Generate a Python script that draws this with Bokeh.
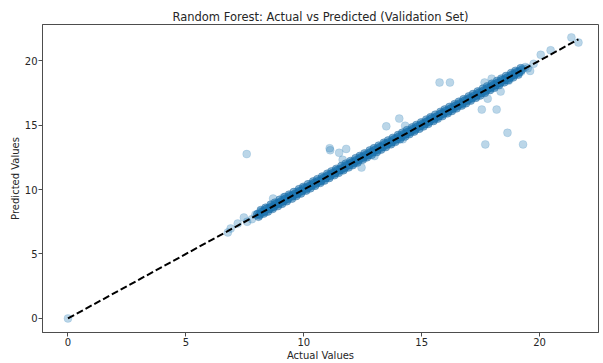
from bokeh.plotting import figure
from bokeh.models import Range1d, FixedTicker, ColumnDataSource
from bokeh.embed import file_html
from bokeh.resources import INLINE

# Validation-set targets (actual) and random-forest outputs (predicted)
actual = [
    0.0, 6.78, 6.9, 7.2, 7.46, 7.6, 7.8, 7.95,
    8.05, 8.12, 8.2, 8.28, 8.35, 8.41, 8.5, 8.58, 8.63, 8.72, 8.8, 8.86, 8.95, 9.02,
    9.1, 9.18, 9.25, 9.31, 9.4, 9.48, 9.55, 9.62, 9.7, 9.78, 9.85, 9.93, 10.0, 10.08,
    10.15, 10.22, 10.3, 10.38, 10.45, 10.52, 10.6, 10.68, 10.75, 10.83, 10.9, 10.97,
    11.05, 11.12, 11.2, 11.28, 11.35, 11.42, 11.5, 11.58, 11.65, 11.72, 11.8, 11.88,
    11.95, 12.03, 12.1, 12.18, 12.25, 12.32, 12.4, 12.48, 12.55, 12.62, 12.7, 12.78,
    12.85, 12.92, 13.0, 13.08, 13.15, 13.22, 13.3, 13.38, 13.45, 13.52, 13.6, 13.68,
    13.75, 13.82, 13.9, 13.98, 14.05, 14.12, 14.2, 14.28, 14.35, 14.42, 14.5, 14.58,
    14.65, 14.72, 14.8, 14.88, 14.95, 15.02, 15.1, 15.18, 15.25, 15.32, 15.4, 15.48,
    15.55, 15.62, 15.7, 15.78, 15.85, 15.92, 16.0, 16.08, 16.15, 16.22, 16.3, 16.38,
    16.45, 16.52, 16.6, 16.68, 16.75, 16.82, 16.9, 16.98, 17.05, 17.12, 17.2, 17.28,
    17.35, 17.42, 17.5, 17.58, 17.65, 17.72, 17.8, 17.88, 17.95, 18.02, 18.1, 18.18,
    18.25, 18.32, 18.4, 18.48, 18.55, 18.62, 18.7, 18.78, 18.85, 18.92, 19.0, 19.08,
    19.15, 19.22, 19.3,
    # scattered cases off the diagonal
    7.58, 8.7, 9.15, 11.1, 11.12, 11.5, 11.8, 11.65, 12.45, 13.0, 13.5, 14.05, 14.3,
    14.2, 15.76, 16.2, 17.67, 17.97, 18.35, 17.8, 17.55, 18.18, 18.64, 17.7, 19.3,
    18.7, 19.4, 19.5, 19.6, 19.75, 20.05, 20.47, 21.35, 21.65,
]
predicted = [
    0.0, 6.67, 6.98, 7.36, 7.83, 7.5, 7.7, 8.05,
    8.1, 8.0, 8.31, 8.22, 8.44, 8.3, 8.57, 8.5, 8.75, 8.66, 8.9, 8.79, 9.02, 8.93,
    9.2, 9.12, 9.3, 9.22, 9.51, 9.4, 9.6, 9.55, 9.82, 9.7, 9.9, 9.85, 10.12, 10.0,
    10.2, 10.16, 10.41, 10.3, 10.52, 10.44, 10.7, 10.6, 10.83, 10.74, 11.0, 10.9,
    11.14, 11.03, 11.28, 11.2, 11.46, 11.35, 11.58, 11.5, 11.73, 11.62, 11.9, 11.8,
    12.05, 11.95, 12.2, 12.1, 12.32, 12.22, 12.5, 12.4, 12.63, 12.55, 12.8, 12.7,
    12.92, 12.83, 13.1, 13.0, 13.24, 13.14, 13.38, 13.3, 13.55, 13.44, 13.68, 13.6,
    13.85, 13.74, 13.98, 13.9, 14.15, 14.03, 14.28, 14.2, 14.45, 14.33, 14.58, 14.5,
    14.74, 14.64, 14.9, 14.8, 15.03, 14.94, 15.2, 15.1, 15.33, 15.24, 15.5, 15.4,
    15.63, 15.54, 15.8, 15.7, 15.93, 15.84, 16.1, 16.0, 16.22, 16.14, 16.4, 16.3,
    16.53, 16.44, 16.7, 16.6, 16.82, 16.74, 17.0, 16.9, 17.13, 17.04, 17.3, 17.2,
    17.42, 17.33, 17.6, 17.5, 17.72, 17.63, 17.9, 17.8, 18.02, 17.92, 18.2, 18.1,
    18.32, 18.22, 18.5, 18.4, 18.62, 18.52, 18.8, 18.7, 18.92, 18.84, 19.1, 19.0,
    19.22, 19.14, 19.38,
    12.75, 9.3, 9.4, 13.2, 13.05, 12.85, 13.15, 12.3, 11.7, 12.6, 14.9, 15.5, 14.95,
    13.9, 18.3, 18.3, 18.3, 18.6, 17.6, 17.05, 16.2, 16.2, 14.4, 13.5, 13.5,
    18.45, 19.5, 19.4, 19.2, 19.75, 20.45, 20.8, 21.8, 21.4,
]

# Further validation rows lying close to the diagonal
actual_near = [
    8.08, 8.18, 8.3, 8.38, 8.48, 8.6, 8.68, 8.78, 8.9, 8.98,
    9.08, 9.2, 9.28, 9.38, 9.5, 9.58, 9.68, 9.8, 9.88, 9.98,
    10.1, 10.18, 10.28, 10.4, 10.48, 10.58, 10.7, 10.78, 10.88, 11.0,
    11.08, 11.18, 11.3, 11.38, 11.48, 11.6, 11.68, 11.78, 11.9, 11.98,
    12.08, 12.2, 12.28, 12.38, 12.5, 12.58, 12.68, 12.8, 12.88, 12.98,
    13.1, 13.18, 13.28, 13.4, 13.48, 13.58, 13.7, 13.78, 13.88, 14.0,
    14.08, 14.18, 14.3, 14.38, 14.48, 14.6, 14.68, 14.78, 14.9, 14.98,
    15.08, 15.2, 15.28, 15.38, 15.5, 15.58, 15.68, 15.8, 15.88, 15.98,
    16.1, 16.18, 16.28, 16.4, 16.48, 16.58, 16.7, 16.78, 16.88, 17.0,
    17.08, 17.18, 17.3, 17.38, 17.48, 17.6, 17.68, 17.78, 17.9, 17.98,
    18.08, 18.2, 18.28, 18.38, 18.5, 18.58, 18.68, 18.8, 18.88, 18.98,
    19.1, 19.2,
]
predicted_near = [
    7.9, 8.4, 8.14, 8.58, 8.3, 8.82, 8.5, 8.98, 8.72, 9.2,
    8.9, 9.42, 9.1, 9.6, 9.3, 9.8, 9.5, 10.02, 9.7, 10.2,
    9.92, 10.4, 10.1, 10.62, 10.3, 10.8, 10.52, 11.0, 10.7, 11.22,
    10.9, 11.4, 11.12, 11.6, 11.3, 11.82, 11.5, 12.0, 11.72, 12.2,
    11.9, 12.42, 12.1, 12.6, 12.32, 12.8, 12.5, 13.02, 12.7, 13.2,
    12.92, 13.4, 13.1, 13.62, 13.3, 13.8, 13.52, 14.0, 13.7, 14.22,
    13.9, 14.4, 14.12, 14.6, 14.3, 14.82, 14.5, 15.0, 14.72, 15.2,
    14.9, 15.42, 15.1, 15.6, 15.32, 15.8, 15.5, 16.02, 15.7, 16.2,
    15.92, 16.4, 16.1, 16.62, 16.3, 16.8, 16.52, 17.0, 16.7, 17.22,
    16.9, 17.4, 17.12, 17.6, 17.3, 17.82, 17.5, 18.0, 17.72, 18.2,
    17.9, 18.42, 18.1, 18.6, 18.32, 18.8, 18.5, 19.02, 18.7, 19.2,
    18.92, 19.4,
]

# Rows the model predicts almost exactly
actual_exact = [
    8.03, 8.13, 8.23, 8.33, 8.43, 8.53, 8.63, 8.73, 8.83, 8.93,
    9.03, 9.13, 9.23, 9.33, 9.43, 9.53, 9.63, 9.73, 9.83, 9.93,
    10.03, 10.13, 10.23, 10.33, 10.43, 10.53, 10.63, 10.73, 10.83, 10.93,
    11.03, 11.13, 11.23, 11.33, 11.43, 11.53, 11.63, 11.73, 11.83, 11.93,
    12.03, 12.13, 12.23, 12.33, 12.43, 12.53, 12.63, 12.73, 12.83, 12.93,
    13.03, 13.13, 13.23, 13.33, 13.43, 13.53, 13.63, 13.73, 13.83, 13.93,
    14.03, 14.13, 14.23, 14.33, 14.43, 14.53, 14.63, 14.73, 14.83, 14.93,
    15.03, 15.13, 15.23, 15.33, 15.43, 15.53, 15.63, 15.73, 15.83, 15.93,
    16.03, 16.13, 16.23, 16.33, 16.43, 16.53, 16.63, 16.73, 16.83, 16.93,
    17.03, 17.13, 17.23, 17.33, 17.43, 17.53, 17.63, 17.73, 17.83, 17.93,
    18.03, 18.13, 18.23, 18.33, 18.43, 18.53, 18.63, 18.73, 18.83, 18.93,
    19.03, 19.13, 19.23,
]
predicted_exact = [
    8.08, 8.07, 8.25, 8.30, 8.50, 8.49, 8.64, 8.66, 8.87, 8.91,
    9.06, 9.09, 9.27, 9.28, 9.47, 9.51, 9.66, 9.68, 9.86, 9.90,
    10.09, 10.07, 10.25, 10.31, 10.49, 10.48, 10.65, 10.67, 10.88, 10.90,
    11.07, 11.08, 11.26, 11.29, 11.50, 11.50, 11.64, 11.68, 11.86, 11.92,
    12.08, 12.06, 12.25, 12.30, 12.48, 12.49, 12.66, 12.67, 12.87, 12.91,
    13.06, 13.09, 13.27, 13.29, 13.49, 13.50, 13.65, 13.68, 13.88, 13.90,
    14.08, 14.07, 14.26, 14.30, 14.47, 14.49, 14.67, 14.66, 14.86, 14.92,
    15.07, 15.08, 15.25, 15.29, 15.50, 15.48, 15.64, 15.69, 15.87, 15.90,
    16.08, 16.07, 16.27, 16.28, 16.48, 16.50, 16.66, 16.67, 16.88, 16.91,
    17.06, 17.09, 17.25, 17.30, 17.49, 17.49, 17.65, 17.68, 17.86, 17.92,
    18.08, 18.08, 18.26, 18.29, 18.48, 18.50, 18.67, 18.66, 18.87, 18.90,
    19.07, 19.09, 19.26,
]

x_ticks = [0, 5, 10, 15, 20]
y_ticks = [0, 5, 10, 15, 20]

FONT = "DejaVu Sans"
TEXT = "#262626"
AXIS = "#4d4d4d"
BLUE = "#1f77b4"

p = figure(
    width=603, height=363,
    x_range=Range1d(-1.08, 22.5), y_range=Range1d(-1.09, 22.8),
    output_backend="svg", toolbar_location=None,
    title="Random Forest: Actual vs Predicted (Validation Set)",
    min_border_left=42, min_border_right=5, min_border_top=24, min_border_bottom=31,
)
p.background_fill_color = "white"
p.border_fill_color = "white"
p.outline_line_color = AXIS
p.outline_line_width = 1
p.xgrid.visible = False
p.ygrid.visible = False

p.title.align = "center"
p.title.text_font = FONT
p.title.text_font_size = "11.5px"
p.title.text_font_style = "normal"
p.title.text_color = TEXT
p.title.offset = 0
p.title.standoff = 2

for ax in (p.xaxis[0], p.yaxis[0]):
    ax.axis_line_color = AXIS
    ax.major_tick_line_color = AXIS
    ax.major_tick_out = 4
    ax.major_tick_in = 0
    ax.minor_tick_line_color = None
    ax.major_label_text_font = FONT
    ax.major_label_text_font_size = "10px"
    ax.major_label_text_color = TEXT
    ax.axis_label_text_font = FONT
    ax.axis_label_text_font_size = "10px"
    ax.axis_label_text_font_style = "normal"
    ax.axis_label_text_color = TEXT
    ax.major_label_standoff = 1
    ax.axis_label_standoff = 1

p.xaxis.ticker = FixedTicker(ticks=x_ticks)
p.yaxis.ticker = FixedTicker(ticks=y_ticks)
p.xaxis.axis_label = "Actual Values"
p.yaxis.axis_label = "Predicted Values"

# Densely packed rows along the diagonal pile up into a solid band
dense = ColumnDataSource(data=dict(
    actual=actual_near + actual_exact,
    predicted=predicted_near + predicted_exact,
))
p.scatter("actual", "predicted", source=dense, size=8, marker="circle",
          fill_color=BLUE, fill_alpha=0.55, line_color="#1a5f94", line_alpha=0.5,
          line_width=0.8)

src = ColumnDataSource(data=dict(actual=actual, predicted=predicted))
p.scatter("actual", "predicted", source=src, size=8, marker="circle",
          fill_color=BLUE, fill_alpha=0.3, line_color=BLUE, line_alpha=0.3,
          line_width=0.5)

# Perfect-prediction reference from the smallest to the largest actual value
lo, hi = min(actual), max(actual)
p.line([lo, hi], [lo, hi], line_color="black", line_width=2, line_dash="7 3")

open("out.html", "w").write(file_html(p, INLINE))
